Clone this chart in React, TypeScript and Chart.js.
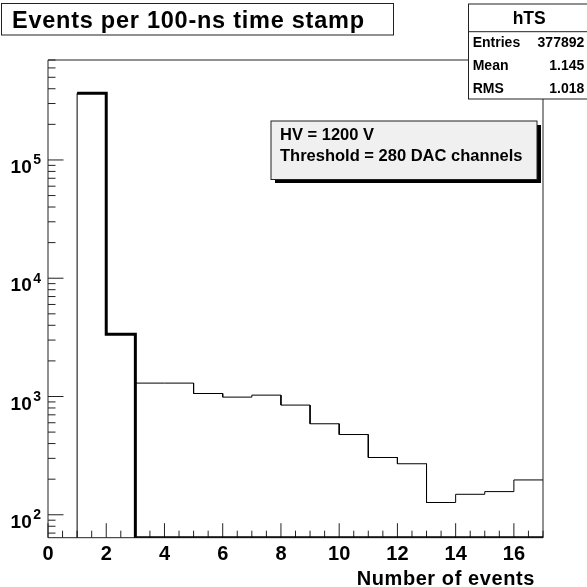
import React, { useEffect, useRef } from 'react';
import { Chart, registerables } from 'chart.js';

Chart.register(...registerables);

// ---- data ----
const BIN_EDGES = [1, 2, 3, 4, 5, 6, 7, 8, 9, 10, 11, 12, 13, 14, 15, 16, 17];
const ALL_EVENTS = [366000, 3357, 1298, 1298, 1060, 988, 1027, 846, 588, 477, 305, 270, 127, 149, 157, 197];
const SELECTED_EVENTS = [366000, 3357, 0, 0, 0, 0, 0, 0, 0, 0, 0, 0, 0, 0, 0, 0];

const X_MIN = 0;
const X_MAX = 17;
const Y_MIN = 64;
const Y_MAX = 7.0e5;

const X_MAJOR_TICKS = [0, 2, 4, 6, 8, 10, 12, 14, 16];
const X_TICK_LABELS = ['0', '2', '4', '6', '8', '10', '12', '14', '16'];
const X_MINOR_STEP = 0.5;
const Y_DECADE_EXPONENTS = [2, 3, 4, 5];
const Y_MINOR_MULTIPLIERS = [2, 3, 4, 5, 6, 7, 8, 9];

const TITLE = 'Events per 100-ns time stamp';
const X_TITLE = 'Number of events';
const STATS_NAME = 'hTS';
const STATS_LABELS = ['Entries', 'Mean', 'RMS'];
const STATS_VALUES = ['377892', '1.145', '1.018'];
const PAVE_LINES = ['HV = 1200 V', 'Threshold = 280 DAC channels'];

const FONT = '"Liberation Sans", Arial, Helvetica, sans-serif';

function histPoints(edges: number[], values: number[], fromFloor: boolean) {
  const pts: { x: number; y: number }[] = [];
  const v = (i: number) => (values[i] > 0 ? values[i] : Y_MIN);
  if (fromFloor) pts.push({ x: edges[0], y: Y_MIN });
  for (let i = 0; i < values.length; i++) {
    pts.push({ x: edges[i], y: v(i) });
    pts.push({ x: edges[i + 1], y: v(i) });
  }
  return pts;
}

function spacedText(ctx: CanvasRenderingContext2D, text: string, x: number, y: number, width: number) {
  const natural = ctx.measureText(text).width;
  const sp = (width - natural) / (text.length - 1);
  let cx = x;
  for (const ch of text) {
    ctx.fillText(ch, cx, y);
    cx += ctx.measureText(ch).width + sp;
  }
}

const rootPlugin = {
  id: 'rootDecor',
  beforeDraw(chart: any) {
    const ctx = chart.ctx as CanvasRenderingContext2D;
    ctx.save();
    ctx.fillStyle = '#ffffff';
    ctx.fillRect(0, 0, chart.width, chart.height);
    ctx.restore();
  },
  beforeDatasetsDraw(chart: any) {
    const ctx = chart.ctx as CanvasRenderingContext2D;
    const a = chart.chartArea;
    const xs = chart.scales.x;
    const ys = chart.scales.y;
    ctx.save();
    ctx.strokeStyle = '#222222';
    ctx.lineWidth = 1;
    // frame
    ctx.beginPath();
    ctx.moveTo(a.left, a.bottom);
    ctx.lineTo(a.left, a.top);
    ctx.lineTo(a.right, a.top);
    ctx.lineTo(a.right, a.bottom);
    ctx.lineTo(a.left, a.bottom);
    ctx.stroke();
    // x ticks (inside, upward)
    ctx.beginPath();
    for (let t = X_MIN; t <= X_MAX + 1e-9; t += X_MINOR_STEP) {
      const px = xs.getPixelForValue(t);
      const major = X_MAJOR_TICKS.includes(t);
      ctx.moveTo(px, a.bottom);
      ctx.lineTo(px, a.bottom - (major ? 14.5 : 7));
    }
    // y ticks (inside, rightward)
    for (let e = 1; e <= 5; e++) {
      const dec = Math.pow(10, e);
      const vals = [dec, ...Y_MINOR_MULTIPLIERS.map((m) => m * dec)];
      vals.forEach((val, i) => {
        if (val < Y_MIN || val > Y_MAX) return;
        const py = ys.getPixelForValue(val);
        ctx.moveTo(a.left, py);
        ctx.lineTo(a.left + (i === 0 ? 15.5 : 7.5), py);
      });
    }
    ctx.stroke();
    ctx.restore();
  },
  afterDraw(chart: any) {
    const ctx = chart.ctx as CanvasRenderingContext2D;
    const xs = chart.scales.x;
    const ys = chart.scales.y;
    ctx.save();
    ctx.fillStyle = '#000000';
    ctx.textBaseline = 'alphabetic';

    // x tick labels
    ctx.font = `bold 20px ${FONT}`;
    ctx.textAlign = 'center';
    X_MAJOR_TICKS.forEach((t, i) => {
      ctx.fillText(X_TICK_LABELS[i], xs.getPixelForValue(t), 559.5);
    });

    // y tick labels 10^n
    Y_DECADE_EXPONENTS.forEach((e) => {
      const py = ys.getPixelForValue(Math.pow(10, e));
      ctx.font = `bold 19px ${FONT}`;
      ctx.textAlign = 'right';
      ctx.fillText('10', 31.7, py + 13);
      ctx.font = `bold 14px ${FONT}`;
      ctx.textAlign = 'left';
      ctx.fillText(String(e), 33.2, py + 4.4);
    });

    // x axis title
    ctx.font = `bold 20px ${FONT}`;
    ctx.textAlign = 'left';
    spacedText(ctx, X_TITLE, 356.7, 585, 177.6);

    // title box
    ctx.strokeStyle = '#222222';
    ctx.lineWidth = 1;
    ctx.fillStyle = '#ffffff';
    ctx.fillRect(1.5, 3.5, 392, 31.5);
    ctx.strokeRect(1.5, 3.5, 392, 31.5);
    ctx.fillStyle = '#000000';
    ctx.font = `bold 23.5px ${FONT}`;
    ctx.textAlign = 'left';
    spacedText(ctx, TITLE, 12, 27.5, 352);

    // stats box
    ctx.fillStyle = '#ffffff';
    ctx.fillRect(468.5, 4, 130, 95);
    ctx.strokeRect(468.5, 4, 130, 95);
    ctx.beginPath();
    ctx.moveTo(468.5, 31.7);
    ctx.lineTo(600, 31.7);
    ctx.stroke();
    ctx.fillStyle = '#000000';
    ctx.font = `bold 17.5px ${FONT}`;
    ctx.textAlign = 'center';
    ctx.fillText(STATS_NAME, 529.2, 23.8);
    ctx.font = `bold 14px ${FONT}`;
    const rowBase = [46.7, 70, 93.3];
    STATS_LABELS.forEach((lab, i) => {
      ctx.textAlign = 'left';
      ctx.fillText(lab, 472.7, rowBase[i]);
      ctx.textAlign = 'right';
      ctx.fillText(STATS_VALUES[i], 584.3, rowBase[i]);
    });

    // pave text box with shadow
    const L = 271, T = 121, R = 537, B = 179.5;
    ctx.fillStyle = '#000000';
    ctx.fillRect(L + 4, B, R - L, 3.5);
    ctx.fillRect(R, T + 4, 4, B - T - 0.5);
    ctx.fillStyle = '#f0f0f0';
    ctx.fillRect(L, T, R - L, B - T);
    ctx.strokeRect(L, T, R - L, B - T);
    ctx.fillStyle = '#000000';
    ctx.font = `bold 16.5px ${FONT}`;
    ctx.textAlign = 'left';
    ctx.fillText(PAVE_LINES[0], 280, 139.5);
    ctx.fillText(PAVE_LINES[1], 280, 161);

    ctx.restore();
  },
};

export default function App() {
  const ref = useRef<HTMLCanvasElement | null>(null);
  useEffect(() => {
    document.body.style.margin = '0';
    const canvas = ref.current;
    if (!canvas) return;
    const chart = new Chart(canvas, {
      type: 'line',
      data: {
        datasets: [
          {
            label: 'selected',
            data: histPoints(BIN_EDGES, SELECTED_EVENTS, false),
            borderColor: '#000000',
            borderWidth: 3,
            pointRadius: 0,
            tension: 0,
            fill: false,
            borderJoinStyle: 'miter',
            borderCapStyle: 'butt',
          },
          {
            label: 'all',
            data: histPoints(BIN_EDGES, ALL_EVENTS, true),
            borderColor: '#000000',
            borderWidth: 1,
            pointRadius: 0,
            tension: 0,
            fill: false,
            borderJoinStyle: 'miter',
          },
        ],
      },
      options: {
        animation: false,
        responsive: false,
        maintainAspectRatio: false,
        devicePixelRatio: 1,
        parsing: false as any,
        normalized: true,
        events: [],
        layout: { padding: { left: 48, top: 60, right: 44, bottom: 49.3 } },
        plugins: {
          legend: { display: false },
          title: { display: false },
          tooltip: { enabled: false },
        },
        scales: {
          x: { type: 'linear', min: X_MIN, max: X_MAX, display: false },
          y: { type: 'logarithmic', min: Y_MIN, max: Y_MAX, display: false },
        },
      },
      plugins: [rootPlugin],
    } as any);
    return () => chart.destroy();
  }, []);
  return (
    <div style={{ position: 'fixed', left: 0, top: 0, width: 587, height: 587 }}>
      <canvas ref={ref} width={587} height={587} style={{ display: 'block', width: 587, height: 587 }} />
    </div>
  );
}
